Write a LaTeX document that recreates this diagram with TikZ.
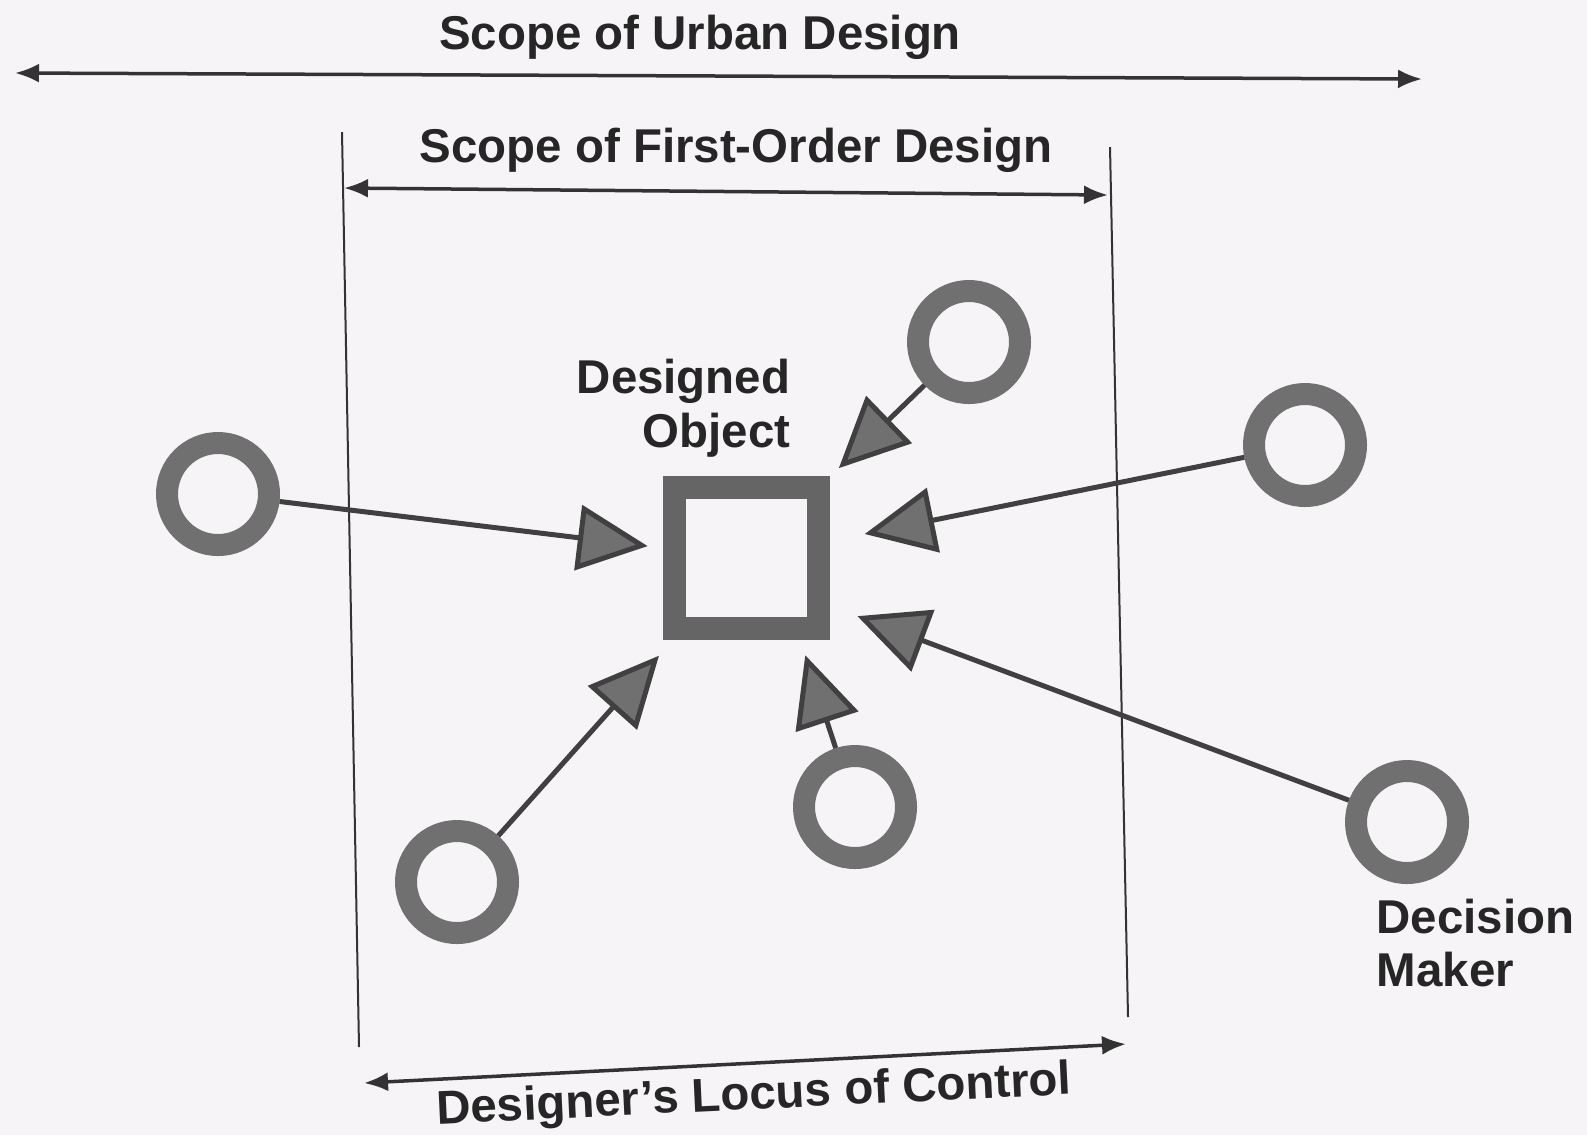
\documentclass[tikz,border=0pt]{standalone}
\usepackage{fontspec}
\setmainfont{Liberation Sans}
\usetikzlibrary{arrows.meta,calc}
\definecolor{paper}{RGB}{246,244,246}
\definecolor{ringgray}{gray}{0.44}
\definecolor{inkgray}{gray}{0.25}

\begin{document}
\begin{tikzpicture}[x=0.1mm,y=-0.1mm,
  tag/.style={font=\bfseries\fontsize{13.5}{15.3}\selectfont, text=black!85, inner sep=0pt},
  ring/.style={circle, draw=ringgray, line width=2.2mm, minimum size=10.2mm, inner sep=0pt},
  objbox/.style={rectangle, draw=ringgray!90!black, line width=2.3mm, minimum width=14.4mm, minimum height=14.1mm, inner sep=0pt},
  feed/.style={draw=inkgray, line width=0.5mm, -{Triangle[length=7mm,width=6.5mm,fill=ringgray]}},
  span/.style={draw=black!80, line width=0.35mm, {Latex[length=2.4mm,width=1.9mm]}-{Latex[length=2.4mm,width=1.9mm]}},
  bound/.style={draw=black!80, line width=0.2mm}]
\fill[paper] (0,0) rectangle (1587,1135);
\useasboundingbox (0,0) rectangle (1587,1135);
% scope limits
\coordinate (urban left) at (15,73);
\coordinate (urban right) at (1422,79);
\coordinate (first left) at (344,188);
\coordinate (first right) at (1108,195);
\coordinate (locus left) at (364,1083);
\coordinate (locus right) at (1126,1044);
\coordinate (bound L top) at (342,132);
\coordinate (bound L bottom) at (359,1047);
\coordinate (bound R top) at (1110,147);
\coordinate (bound R bottom) at (1128,1017);
\draw[bound] (bound L top) -- (bound L bottom);
\draw[bound] (bound R top) -- (bound R bottom);
\draw[span] (urban left) -- (urban right);
\draw[span] (first left) -- (first right);
\draw[span] (locus left) -- (locus right);
\node[tag] (urbanlabel) at (700,37) {Scope of Urban Design};
\node[tag] (firstlabel) at (736,150) {Scope of First-Order Design};
\node[tag, rotate=2.7] (locuslabel) at (754,1097) {Designer's Locus of Control};
% designed object
\node[objbox] (obj) at (746,558) {};
\node[tag, anchor=east, align=right] (objlabel) at (791,408) {Designed\\Object};
\coordinate (aim BM) at ($(obj.south)!0.65!(obj.south east)$);
\coordinate (aim BR) at ($(obj.center)!0.2!(obj.south)$);
% decision makers
\foreach \name/\pos in {dmL/{(218,494)}, dmT/{(969,342)}, dmR/{(1305,445)}, dmBL/{(457,882)}, dmBM/{(855,807)}, dmBR/{(1407,822)}}
  \node[ring] (\name) at \pos {};
\foreach \name/\target/\cut in {dmL/obj/1.5mm, dmT/obj/1.3mm, dmR/obj/3.6mm, dmBL/obj/2.1mm, dmBM/aim BM/1.6mm, dmBR/aim BR/11.9mm}
  \draw[feed, shorten >=\cut] (\name) -- (\target);
\node[tag, anchor=north west, align=left] (dmlabel) at (1376,898) {Decision\\Maker};
\end{tikzpicture}
\end{document}
